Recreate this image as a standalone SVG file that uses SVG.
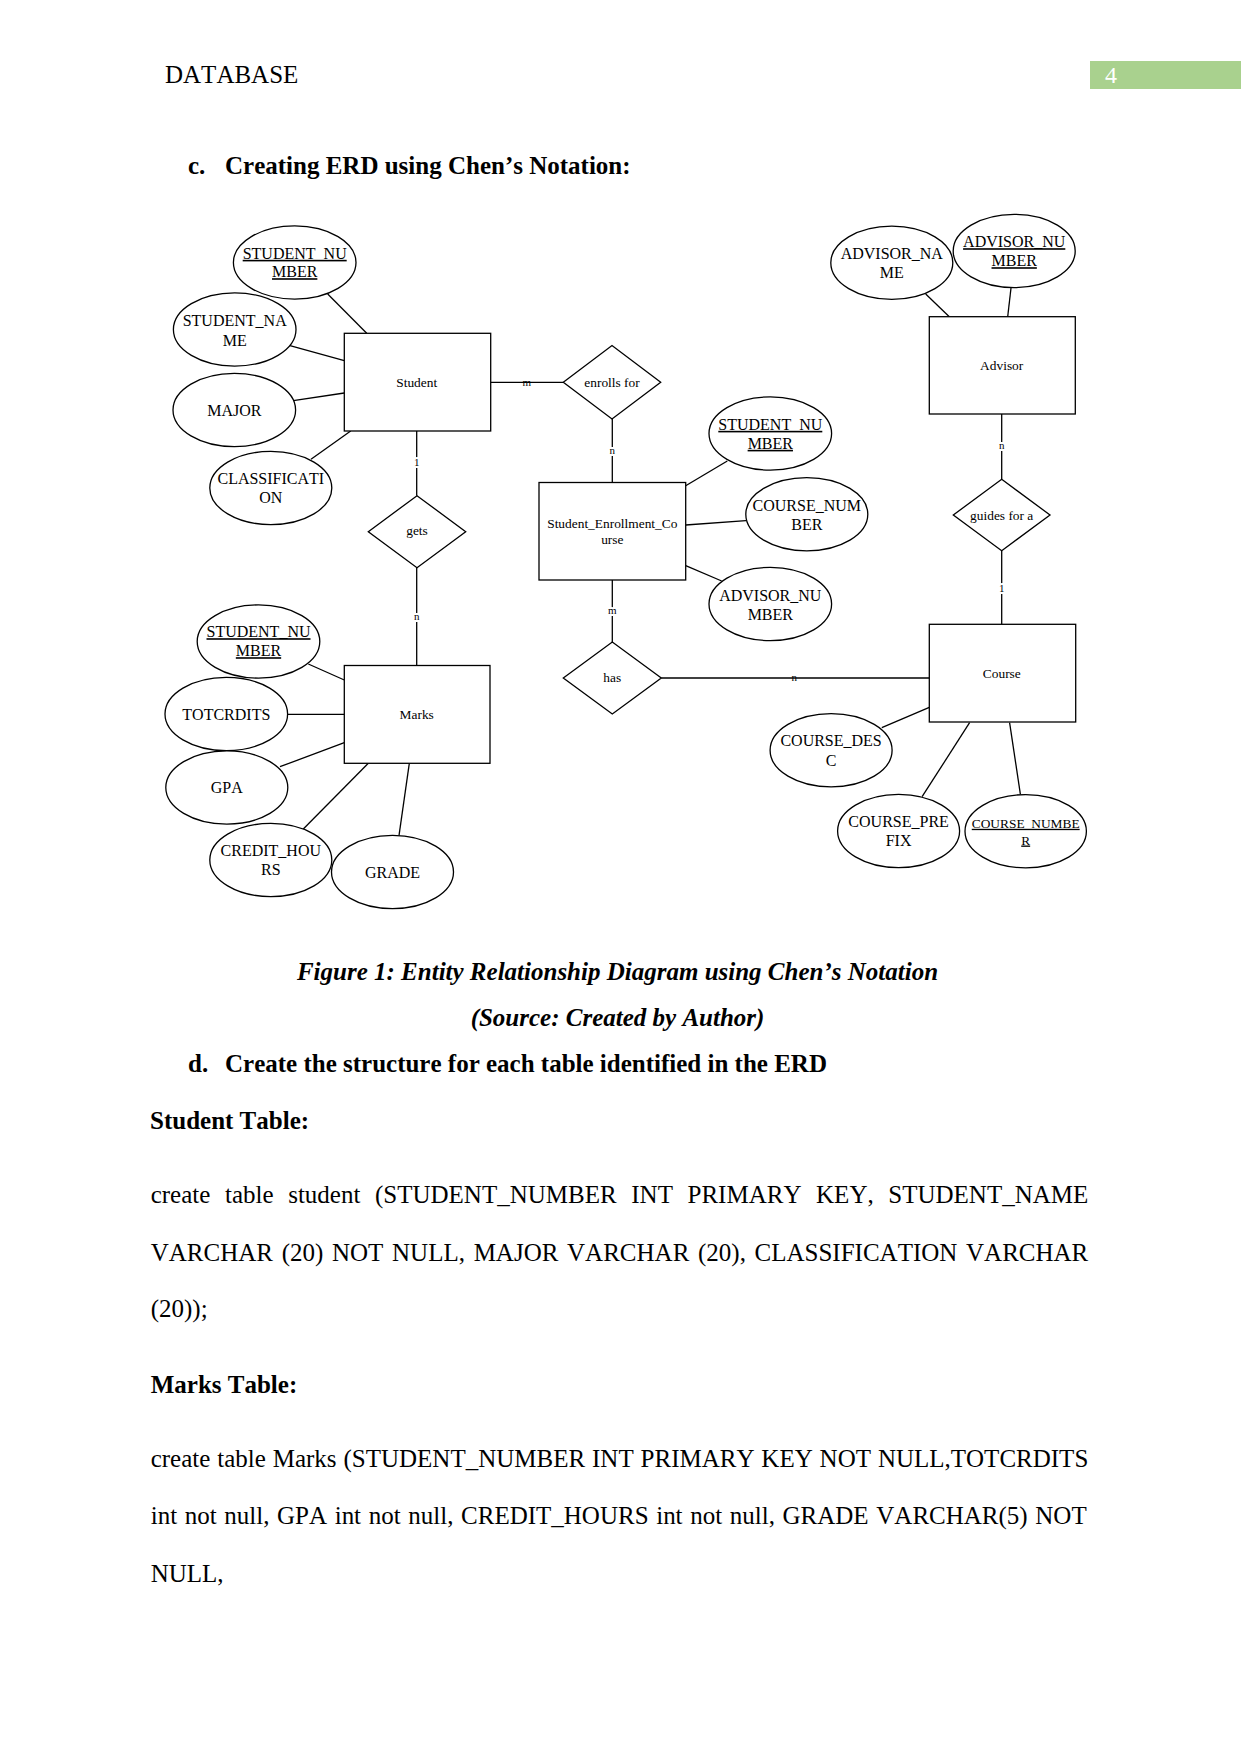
<svg xmlns="http://www.w3.org/2000/svg" width="1241" height="1754" viewBox="0 0 1241 1754">
<style>
text{font-family:"Liberation Serif","Times New Roman",serif;fill:#000;font-kerning:none}
.body{font-size:25px}
.b{font-weight:bold}
.cap{font-size:25px;font-weight:bold;font-style:italic}
.attr{font-size:16px;text-anchor:middle}
.sm{font-size:13.4px;text-anchor:middle}
.card{font-size:11px;text-anchor:middle}
.halo{paint-order:stroke;stroke:#fff;stroke-width:4px}
.u{text-decoration:underline}
.shape{fill:#fff;stroke:#000;stroke-width:1.3}
.ln{stroke:#000;stroke-width:1.3;fill:none}
</style>
<rect width="1241" height="1754" fill="#fff"/>
<!-- header -->
<text x="165" y="83" class="body">DATABASE</text>
<rect x="1090" y="61" width="151" height="28" fill="#a9d18e"/>
<text x="1105" y="83" font-size="24" style="fill:#fff">4</text>
<text x="188" y="174" class="body b">c.<tspan x="225">Creating ERD using Chen’s Notation:</tspan></text>

<!-- connectors -->
<g id="connectors">
  <line class="ln" x1="490.7" y1="382.3" x2="563.3" y2="382.3"/>
  <line class="ln" x1="612.3" y1="419" x2="612.3" y2="482.5"/>
  <line class="ln" x1="416.7" y1="431" x2="416.7" y2="495.7"/>
  <line class="ln" x1="416.7" y1="567.7" x2="416.7" y2="665.5"/>
  <line class="ln" x1="612.3" y1="580" x2="612.3" y2="642"/>
  <line class="ln" x1="661.3" y1="678" x2="929.3" y2="678"/>
  <line class="ln" x1="1001.7" y1="414" x2="1001.7" y2="479.3"/>
  <line class="ln" x1="1001.7" y1="550.7" x2="1001.7" y2="624.3"/>
  <!-- Student attributes -->
  <line class="ln" x1="327.7" y1="294" x2="366.7" y2="333.3"/>
  <line class="ln" x1="290" y1="345.7" x2="344.3" y2="360.7"/>
  <line class="ln" x1="293.3" y1="400.7" x2="344.3" y2="393"/>
  <line class="ln" x1="311" y1="459.3" x2="350.7" y2="431"/>
  <!-- SEC attributes -->
  <line class="ln" x1="685.7" y1="485.7" x2="727.3" y2="461"/>
  <line class="ln" x1="685.7" y1="525" x2="746" y2="520.7"/>
  <line class="ln" x1="685.7" y1="565.7" x2="721.7" y2="581"/>
  <!-- Advisor attributes -->
  <line class="ln" x1="925.7" y1="294" x2="949.3" y2="316.7"/>
  <line class="ln" x1="1011" y1="288" x2="1007.7" y2="316.7"/>
  <!-- Marks attributes -->
  <line class="ln" x1="308.3" y1="664" x2="344.3" y2="680"/>
  <line class="ln" x1="287.7" y1="714.3" x2="344.3" y2="714.3"/>
  <line class="ln" x1="280" y1="766.7" x2="344.3" y2="742.7"/>
  <line class="ln" x1="303.3" y1="829" x2="368.3" y2="763.3"/>
  <line class="ln" x1="399" y1="835.7" x2="409.3" y2="763.3"/>
  <!-- Course attributes -->
  <line class="ln" x1="881.8" y1="727.7" x2="929.3" y2="707.3"/>
  <line class="ln" x1="922.1" y1="796.7" x2="969.6" y2="722.7"/>
  <line class="ln" x1="1020.4" y1="794.3" x2="1009.6" y2="722.7"/>
  <!-- cardinalities -->
  <text class="card" x="526.7" y="385.5">m</text>
  <text class="card halo" x="612.3" y="454">n</text>
  <text class="card halo" x="416.7" y="466">1</text>
  <text class="card halo" x="416.7" y="620">n</text>
  <text class="card halo" x="612.3" y="614">m</text>
  <text class="card" x="794.3" y="681">n</text>
  <text class="card halo" x="1001.7" y="449">n</text>
  <text class="card halo" x="1001.7" y="591.5">1</text>
</g>

<!-- entities -->
<g id="student"><rect class="shape" x="344.3" y="333.3" width="146.4" height="97.7"/><text class="sm" x="416.7" y="386.8">Student</text></g>
<g id="sec"><rect class="shape" x="539" y="482.5" width="146.7" height="97.5"/><text class="sm" x="612.3" y="527.5">Student_Enrollment_Co</text><text class="sm" x="612.3" y="544">urse</text></g>
<g id="advisor"><rect class="shape" x="929.3" y="316.7" width="146" height="97.3"/><text class="sm" x="1001.7" y="369.5">Advisor</text></g>
<g id="marks"><rect class="shape" x="344.3" y="665.5" width="145.7" height="97.8"/><text class="sm" x="416.7" y="718.8">Marks</text></g>
<g id="course"><rect class="shape" x="929.3" y="624.3" width="146.4" height="97.7"/><text class="sm" x="1001.8" y="677.8">Course</text></g>

<!-- relationships -->
<g id="enrolls"><polygon class="shape" points="563.3,382.3 612,345.6 660.7,382.3 612,419"/><text class="sm" x="612" y="386.5">enrolls for</text></g>
<g id="gets"><polygon class="shape" points="368.3,531.7 417,495.7 465.7,531.7 417,567.7"/><text class="sm" x="417" y="535">gets</text></g>
<g id="guides"><polygon class="shape" points="953.3,515 1001.7,479.3 1050,515 1001.7,550.7"/><text class="sm" x="1001.7" y="519.5">guides for a</text></g>
<g id="has"><polygon class="shape" points="563.3,678 612.3,642 661.3,678 612.3,714"/><text class="sm" x="612.3" y="682">has</text></g>

<!-- attributes -->
<g id="a-student-number"><ellipse class="shape" cx="294.7" cy="262.5" rx="61.3" ry="36.6"/><text class="attr u" x="294.7" y="258.8">STUDENT_NU</text><text class="attr u" x="294.7" y="277.2">MBER</text></g>
<g id="a-student-name"><ellipse class="shape" cx="234.7" cy="329.5" rx="61.3" ry="36.6"/><text class="attr" x="234.7" y="326.2">STUDENT_NA</text><text class="attr" x="234.7" y="345.5">ME</text></g>
<g id="a-major"><ellipse class="shape" cx="234.3" cy="410" rx="61.3" ry="36.6"/><text class="attr" x="234.3" y="415.5">MAJOR</text></g>
<g id="a-classification"><ellipse class="shape" cx="270.8" cy="488" rx="61" ry="36.6"/><text class="attr" x="270.8" y="483.8">CLASSIFICATI</text><text class="attr" x="270.8" y="502.8">ON</text></g>
<g id="a-sec-student-number"><ellipse class="shape" cx="770.3" cy="433.5" rx="61.3" ry="36.6"/><text class="attr u" x="770.3" y="429.8">STUDENT_NU</text><text class="attr u" x="770.3" y="448.8">MBER</text></g>
<g id="a-sec-course-number"><ellipse class="shape" cx="806.8" cy="514.3" rx="61" ry="36.6"/><text class="attr" x="806.8" y="510.5">COURSE_NUM</text><text class="attr" x="806.8" y="529.5">BER</text></g>
<g id="a-sec-advisor-number"><ellipse class="shape" cx="770.3" cy="604" rx="61.3" ry="36.6"/><text class="attr" x="770.3" y="601.2">ADVISOR_NU</text><text class="attr" x="770.3" y="619.8">MBER</text></g>
<g id="a-advisor-name"><ellipse class="shape" cx="891.8" cy="262.7" rx="61" ry="36.6"/><text class="attr" x="891.8" y="258.8">ADVISOR_NA</text><text class="attr" x="891.8" y="277.8">ME</text></g>
<g id="a-advisor-number"><ellipse class="shape" cx="1014.2" cy="251" rx="61" ry="36.6"/><text class="attr u" x="1014.2" y="247.2">ADVISOR_NU</text><text class="attr u" x="1014.2" y="266.2">MBER</text></g>
<g id="a-marks-student-number"><ellipse class="shape" cx="258.5" cy="641.5" rx="61.3" ry="36.6"/><text class="attr u" x="258.5" y="637.2">STUDENT_NU</text><text class="attr u" x="258.5" y="656.2">MBER</text></g>
<g id="a-totcrdits"><ellipse class="shape" cx="226.3" cy="714" rx="61.3" ry="36.6"/><text class="attr" x="226.3" y="719.8">TOTCRDITS</text></g>
<g id="a-gpa"><ellipse class="shape" cx="226.8" cy="787.5" rx="61" ry="36.6"/><text class="attr" x="226.8" y="792.8">GPA</text></g>
<g id="a-credit-hours"><ellipse class="shape" cx="270.8" cy="860" rx="61" ry="36.6"/><text class="attr" x="270.8" y="855.5">CREDIT_HOU</text><text class="attr" x="270.8" y="874.8">RS</text></g>
<g id="a-grade"><ellipse class="shape" cx="392.5" cy="872" rx="61" ry="36.6"/><text class="attr" x="392.5" y="878.2">GRADE</text></g>
<g id="a-course-desc"><ellipse class="shape" cx="831.1" cy="750.3" rx="61" ry="36.6"/><text class="attr" x="831.1" y="746.2">COURSE_DES</text><text class="attr" x="831.1" y="765.5">C</text></g>
<g id="a-course-prefix"><ellipse class="shape" cx="898.6" cy="831" rx="61" ry="36.6"/><text class="attr" x="898.6" y="827.2">COURSE_PRE</text><text class="attr" x="898.6" y="846.2">FIX</text></g>
<g id="a-course-number"><ellipse class="shape" cx="1025.7" cy="831.2" rx="60.7" ry="36.6"/><text class="sm u" x="1025.7" y="827.8">COURSE_NUMBE</text><text class="sm u" x="1025.7" y="844.5">R</text></g>

<!-- captions and body -->
<text class="cap" x="617.5" y="980" text-anchor="middle">Figure 1: Entity Relationship Diagram using Chen’s Notation</text>
<text class="cap" x="617.5" y="1026" text-anchor="middle">(Source: Created by Author)</text>
<text class="body b" x="188" y="1072">d.<tspan x="225">Create the structure for each table identified in the ERD</tspan></text>
<text class="body b" x="150" y="1129">Student Table:</text>
<text class="body" x="150.7" y="1203.3" word-spacing="8.37" textLength="937.6" lengthAdjust="spacing">create table student (STUDENT_NUMBER INT PRIMARY KEY, STUDENT_NAME</text>
<text class="body" x="150.7" y="1260.7" word-spacing="2.45" textLength="937.6" lengthAdjust="spacing">VARCHAR (20) NOT NULL, MAJOR VARCHAR (20), CLASSIFICATION VARCHAR</text>
<text class="body" x="150.7" y="1316.7">(20));</text>
<text class="body b" x="150.7" y="1392.7">Marks Table:</text>
<text class="body" x="150.7" y="1466.7" word-spacing="0.64" textLength="937.6" lengthAdjust="spacing">create table Marks (STUDENT_NUMBER INT PRIMARY KEY NOT NULL,TOTCRDITS</text>
<text class="body" x="150.7" y="1524.3" word-spacing="1.38" textLength="936" lengthAdjust="spacing">int not null, GPA int not null, CREDIT_HOURS int not null, GRADE VARCHAR(5) NOT</text>
<text class="body" x="150.7" y="1581.7">NULL,</text>
</svg>
